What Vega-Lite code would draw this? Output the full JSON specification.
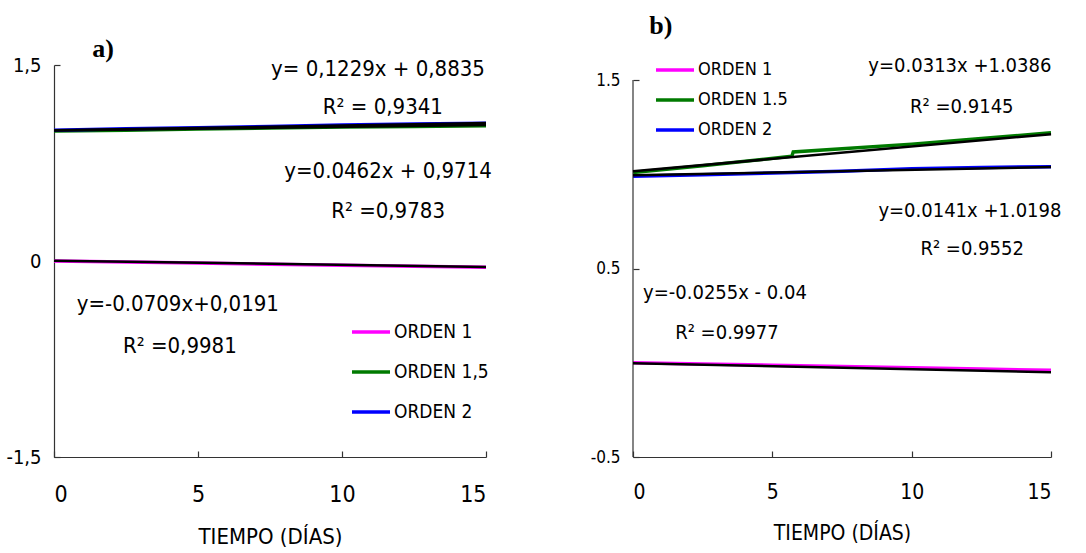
{
  "$schema": "https://vega.github.io/schema/vega-lite/v6.json",
  "background": "white",
  "padding": {"left": 5, "top": 12, "right": 0, "bottom": 0},
  "spacing": 97,
  "config": {
    "view": {"stroke": null},
    "font": "DejaVu Sans Condensed, Liberation Sans, sans-serif",
    "axis": {"grid": false, "domainColor": "#333", "tickColor": "#333", "domainWidth": 1.2, "tickWidth": 1.2, "labelColor": "#000", "titleColor": "#000", "labelFont": "DejaVu Sans Condensed, Liberation Sans, sans-serif", "titleFont": "DejaVu Sans Condensed, Liberation Sans, sans-serif", "titleFontWeight": "normal", "tickSize": -6},
    "legend": {"labelFont": "DejaVu Sans Condensed, Liberation Sans, sans-serif", "labelColor": "#000", "symbolType": "stroke", "symbolSize": 1444, "symbolStrokeWidth": 3.5, "labelOffset": 2, "title": null}
  },
  "resolve": {"legend": {"color": "independent"}, "scale": {"color": "independent"}},
  "datasets": {
    "a": [
      {"dia": 0, "v": 0.0, "serie": "ORDEN 1"}, {"dia": 2.5, "v": -0.008, "serie": "ORDEN 1"}, {"dia": 5, "v": -0.016, "serie": "ORDEN 1"}, {"dia": 7.5, "v": -0.025, "serie": "ORDEN 1"}, {"dia": 10, "v": -0.033, "serie": "ORDEN 1"}, {"dia": 12.5, "v": -0.04, "serie": "ORDEN 1"}, {"dia": 15, "v": -0.048, "serie": "ORDEN 1"},
      {"dia": 0, "v": 0.995, "serie": "ORDEN 1,5"}, {"dia": 2.5, "v": 1.0, "serie": "ORDEN 1,5"}, {"dia": 5, "v": 1.01, "serie": "ORDEN 1,5"}, {"dia": 7.5, "v": 1.017, "serie": "ORDEN 1,5"}, {"dia": 10, "v": 1.025, "serie": "ORDEN 1,5"}, {"dia": 12.5, "v": 1.03, "serie": "ORDEN 1,5"}, {"dia": 15, "v": 1.035, "serie": "ORDEN 1,5"},
      {"dia": 0, "v": 1.0, "serie": "ORDEN 2"}, {"dia": 2.5, "v": 1.012, "serie": "ORDEN 2"}, {"dia": 5, "v": 1.02, "serie": "ORDEN 2"}, {"dia": 7.5, "v": 1.03, "serie": "ORDEN 2"}, {"dia": 10, "v": 1.04, "serie": "ORDEN 2"}, {"dia": 12.5, "v": 1.048, "serie": "ORDEN 2"}, {"dia": 15, "v": 1.054, "serie": "ORDEN 2"}
    ],
    "afit": [
      {"dia": 0, "v": 0.002, "ajuste": "1"}, {"dia": 15, "v": -0.045, "ajuste": "1"},
      {"dia": 0, "v": 0.998, "ajuste": "1,5"}, {"dia": 15, "v": 1.04, "ajuste": "1,5"},
      {"dia": 0, "v": 1.0, "ajuste": "2"}, {"dia": 15, "v": 1.056, "ajuste": "2"}
    ],
    "atext": [
      {"dia": 11.25, "v": 1.47, "texto": "y= 0,1229x + 0,8835"},
      {"dia": 11.42, "v": 1.18, "texto": "R² = 0,9341"},
      {"dia": 11.6, "v": 0.69, "texto": "y=0.0462x + 0,9714"},
      {"dia": 11.6, "v": 0.38, "texto": "R² =0,9783"},
      {"dia": 4.3, "v": -0.33, "texto": "y=-0.0709x+0,0191"},
      {"dia": 4.37, "v": -0.65, "texto": "R² =0,9981"}
    ],
    "alabel": [{"dia": 1.7, "v": 1.62, "texto": "a)"}],
    "b": [
      {"dia": 0, "v": 0.0, "serie": "ORDEN 1"}, {"dia": 2.5, "v": -0.007, "serie": "ORDEN 1"}, {"dia": 5, "v": -0.013, "serie": "ORDEN 1"}, {"dia": 7.5, "v": -0.02, "serie": "ORDEN 1"}, {"dia": 10, "v": -0.027, "serie": "ORDEN 1"}, {"dia": 12.5, "v": -0.033, "serie": "ORDEN 1"}, {"dia": 15, "v": -0.04, "serie": "ORDEN 1"},
      {"dia": 0, "v": 1.01, "serie": "ORDEN 1.5"}, {"dia": 2.5, "v": 1.045, "serie": "ORDEN 1.5"}, {"dia": 5.7, "v": 1.096, "serie": "ORDEN 1.5"}, {"dia": 5.75, "v": 1.118, "serie": "ORDEN 1.5"}, {"dia": 7.5, "v": 1.135, "serie": "ORDEN 1.5"}, {"dia": 10, "v": 1.16, "serie": "ORDEN 1.5"}, {"dia": 12.5, "v": 1.19, "serie": "ORDEN 1.5"}, {"dia": 15, "v": 1.22, "serie": "ORDEN 1.5"},
      {"dia": 0, "v": 0.99, "serie": "ORDEN 2"}, {"dia": 2.5, "v": 0.998, "serie": "ORDEN 2"}, {"dia": 5, "v": 1.007, "serie": "ORDEN 2"}, {"dia": 7.5, "v": 1.016, "serie": "ORDEN 2"}, {"dia": 10, "v": 1.03, "serie": "ORDEN 2"}, {"dia": 12.5, "v": 1.036, "serie": "ORDEN 2"}, {"dia": 15, "v": 1.04, "serie": "ORDEN 2"}
    ],
    "bfit": [
      {"dia": 0, "v": -0.003, "ajuste": "1"}, {"dia": 15, "v": -0.05, "ajuste": "1"},
      {"dia": 0, "v": 1.016, "ajuste": "1.5"}, {"dia": 15, "v": 1.213, "ajuste": "1.5"},
      {"dia": 0, "v": 0.995, "ajuste": "2"}, {"dia": 15, "v": 1.038, "ajuste": "2"}
    ],
    "baxis": [{"dia": 0, "v": -0.5, "v2": 1.5}],
    "btext": [
      {"dia": 11.73, "v": 1.574, "texto": "y=0.0313x +1.0386"},
      {"dia": 11.8, "v": 1.356, "texto": "R² =0.9145"},
      {"dia": 12.09, "v": 0.803, "texto": "y=0.0141x +1.0198"},
      {"dia": 12.17, "v": 0.601, "texto": "R² =0.9552"},
      {"dia": 3.3, "v": 0.372, "texto": "y=-0.0255x - 0.04"},
      {"dia": 3.37, "v": 0.16, "texto": "R² =0.9977"}
    ],
    "blabel": [{"dia": 1.0, "v": 1.787, "texto": "b)"}]
  },
  "hconcat": [
    {
      "width": 432,
      "height": 392,
      "layer": [
        {
          "data": {"name": "a"},
          "mark": {"type": "line", "strokeWidth": 3.5},
          "encoding": {
            "x": {"field": "dia", "type": "quantitative", "scale": {"domain": [0, 15], "nice": false}, "axis": {"values": [0, 5, 10, 15], "title": "TIEMPO (DÍAS)", "labelFontSize": 23, "labelPadding": 32, "titleFontSize": 22, "titlePadding": 20}},
            "y": {"field": "v", "type": "quantitative", "scale": {"domain": [-1.5, 1.5], "nice": false, "zero": false}, "axis": {"values": [-1.5, 0, 1.5], "title": null, "labelFontSize": 20, "labelPadding": 19, "labelExpr": "datum.value == 0 ? '0' : (datum.value > 0 ? '1,5' : '-1,5')"}},
            "color": {"field": "serie", "type": "nominal", "scale": {"domain": ["ORDEN 1", "ORDEN 1,5", "ORDEN 2"], "range": ["#ff00ff", "#007a00", "#0000ff"]}, "legend": {"orient": "none", "legendX": 296, "legendY": 246, "labelFontSize": 19, "rowPadding": 9}}
          }
        },
        {
          "data": {"name": "afit"},
          "mark": {"type": "line", "strokeWidth": 2.5, "color": "#000"},
          "encoding": {
            "x": {"field": "dia", "type": "quantitative"},
            "y": {"field": "v", "type": "quantitative"},
            "detail": {"field": "ajuste", "type": "nominal"}
          }
        },
        {
          "data": {"name": "atext"},
          "mark": {"type": "text", "fontSize": 22, "align": "center", "baseline": "middle", "color": "#000"},
          "encoding": {
            "x": {"field": "dia", "type": "quantitative"},
            "y": {"field": "v", "type": "quantitative"},
            "text": {"field": "texto"}
          }
        },
        {
          "data": {"name": "alabel"},
          "mark": {"type": "text", "fontSize": 26, "font": "Liberation Serif", "fontWeight": "bold", "align": "center", "baseline": "middle", "color": "#000"},
          "encoding": {
            "x": {"field": "dia", "type": "quantitative"},
            "y": {"field": "v", "type": "quantitative"},
            "text": {"field": "texto"}
          }
        }
      ]
    },
    {
      "width": 418,
      "height": 392,
      "layer": [
        {
          "data": {"name": "b"},
          "mark": {"type": "line", "strokeWidth": 3.5},
          "encoding": {
            "x": {"field": "dia", "type": "quantitative", "scale": {"domain": [0, 15], "nice": false}, "axis": {"values": [0, 5, 10, 15], "title": "TIEMPO (DÍAS)", "labelFontSize": 21, "labelPadding": 30, "titleFontSize": 21, "titlePadding": 20}},
            "y": {"field": "v", "type": "quantitative", "scale": {"domain": [-0.5, 1.5798], "nice": false, "zero": false}, "axis": {"values": [-0.5, 0.5, 1.5], "title": null, "domain": false, "labelFontSize": 17, "labelPadding": 19, "labelExpr": "replace(datum.label, '−', '-')"}},
            "color": {"field": "serie", "type": "nominal", "scale": {"domain": ["ORDEN 1", "ORDEN 1.5", "ORDEN 2"], "range": ["#ff00ff", "#007a00", "#0000ff"]}, "legend": {"orient": "none", "legendX": 21, "legendY": -16, "labelFontSize": 18, "rowPadding": 0}}
          }
        },
        {
          "data": {"name": "baxis"},
          "mark": {"type": "rule", "color": "#333", "strokeWidth": 1.2},
          "encoding": {
            "x": {"field": "dia", "type": "quantitative"},
            "y": {"field": "v", "type": "quantitative"},
            "y2": {"field": "v2"}
          }
        },
        {
          "data": {"name": "bfit"},
          "mark": {"type": "line", "strokeWidth": 2.5, "color": "#000"},
          "encoding": {
            "x": {"field": "dia", "type": "quantitative"},
            "y": {"field": "v", "type": "quantitative"},
            "detail": {"field": "ajuste", "type": "nominal"}
          }
        },
        {
          "data": {"name": "btext"},
          "mark": {"type": "text", "fontSize": 20, "align": "center", "baseline": "middle", "color": "#000"},
          "encoding": {
            "x": {"field": "dia", "type": "quantitative"},
            "y": {"field": "v", "type": "quantitative"},
            "text": {"field": "texto"}
          }
        },
        {
          "data": {"name": "blabel"},
          "mark": {"type": "text", "fontSize": 26, "font": "Liberation Serif", "fontWeight": "bold", "align": "center", "baseline": "middle", "color": "#000"},
          "encoding": {
            "x": {"field": "dia", "type": "quantitative"},
            "y": {"field": "v", "type": "quantitative"},
            "text": {"field": "texto"}
          }
        }
      ]
    }
  ]
}
